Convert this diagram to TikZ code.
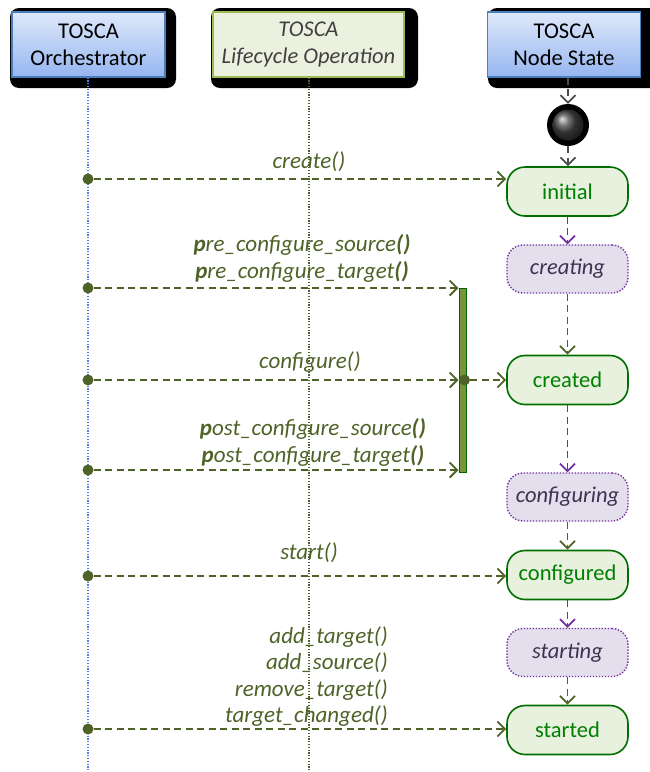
\documentclass[tikz,border=0pt]{standalone}
\usepackage{fontspec}
\setmainfont{Carlito}
\usetikzlibrary{arrows.meta}
\definecolor{msgcol}{RGB}{79,98,40}
\definecolor{hdrborder}{RGB}{74,126,187}
\definecolor{hdrtop}{RGB}{222,232,250}
\definecolor{hdrbot}{RGB}{150,182,240}
\definecolor{lcfill}{RGB}{235,241,222}
\definecolor{lcborder}{RGB}{155,187,89}
\definecolor{stgreen}{RGB}{0,110,0}
\definecolor{sttext}{RGB}{0,128,0}
\definecolor{stfill}{RGB}{232,240,222}
\definecolor{pfill}{RGB}{228,223,236}
\definecolor{pborder}{RGB}{112,48,160}
\definecolor{ptext}{RGB}{63,49,81}
\definecolor{actfill}{RGB}{119,147,60}
\definecolor{actborder}{RGB}{0,100,0}
\definecolor{orchline}{RGB}{74,134,232}
\tikzset{
  x=1pt, y=-1pt,
  hdr/.style={draw=hdrborder, line width=1.2pt, top color=hdrtop, bottom color=hdrbot,
    minimum width=153pt, minimum height=65pt, align=center, inner sep=2pt,
    font=\fontsize{22.5}{27}\selectfont},
  lchdr/.style={draw=lcborder, line width=1.2pt, fill=lcfill,
    minimum width=191pt, minimum height=65pt, align=center, inner sep=2pt,
    font=\itshape\fontsize{22.5}{27}\selectfont, text=black!75},
  shadowbox/.style={fill=black, rounded corners=9pt},
  gstate/.style={draw=stgreen, line width=1.6pt, fill=stfill, rounded corners=18pt,
    minimum width=121pt, minimum height=49pt, text=sttext, inner sep=0pt,
    font=\fontsize{22.5}{26}\selectfont},
  pstate/.style={draw=pborder, line width=1.4pt, dash pattern=on 1.4pt off 1.6pt,
    fill=pfill, rounded corners=16pt,
    minimum width=121pt, minimum height=48pt, text=ptext, inner sep=0pt,
    font=\itshape\fontsize{22.5}{26}\selectfont},
  tip/.style={-{Straight Barb[length=7.5pt,width=15pt,line width=1.8pt]}},
  msg/.style={draw=msgcol, line width=1.7pt, dash pattern=on 7pt off 4.5pt, tip},
  ptrans/.style={draw=pborder, line width=1.7pt, dash pattern=on 7pt off 4.5pt, tip},
  otrans/.style={draw=msgcol, line width=1.7pt, dash pattern=on 7pt off 4.5pt, tip},
  ktrans/.style={draw=black!70, line width=1.7pt, dash pattern=on 7pt off 4.5pt, tip},
  mdot/.style={circle, fill=msgcol, minimum size=11pt, inner sep=0pt},
  lbl/.style={text=msgcol, inner sep=0pt, font=\itshape\fontsize{23}{26}\selectfont},
  act/.style={draw=actborder, line width=1pt, fill=actfill, minimum width=7pt,
    minimum height=184pt, inner sep=0pt},
}
\newcommand{\bp}[1]{\textbf{#1}}
\begin{document}
\begin{tikzpicture}
\useasboundingbox (0,0) rectangle (650,772);
% headers
\fill[shadowbox] (10,8) rectangle (176,88);
\fill[shadowbox] (211,8) rectangle (418,88);
\fill[shadowbox] (488,8) rectangle (660,88);
\node[hdr] (orch) at (88.5,44.5) {TOSCA\\Orchestrator};
\node[lchdr] (lc) at (308.5,44.5) {TOSCA\\Lifecycle Operation};
\node[hdr] (ns) at (564,44.5) {TOSCA\\Node State};
% lifelines
\draw[orchline, line width=1.2pt, dash pattern=on 1.2pt off 1.6pt] (orch.south -| 88,0) -- (88,772);
\draw[msgcol, line width=1.2pt, dash pattern=on 1.2pt off 1.6pt] (lc.south -| 309,0) -- (309,772);
% initial pseudo state
\node[circle, fill=black, minimum size=42pt, inner sep=0pt] (init) at (568,125) {};
\node[circle, ball color=gray!55!black, minimum size=31pt, inner sep=0pt] (ball) at (init) {};
% states
\node[gstate] (initial) at (567.5,191.5) {initial};
\node[pstate] (creating) at (567.5,269) {creating};
\node[gstate] (created) at (567.5,380) {created};
\node[pstate] (configuring) at (567.5,497) {configuring};
\node[gstate] (configured) at (567.5,575) {configured};
\node[pstate] (starting) at (567.5,652.5) {starting};
\node[gstate] (started) at (567.5,730) {started};
% state transitions
\draw[ktrans] (ns.south -| init) -- (init.north);
\draw[ktrans] (init.south) -- (initial.north -| init);
\draw[ptrans] (initial) -- (creating);
\draw[otrans] (creating) -- (created);
\draw[ptrans] (created) -- (configuring);
\draw[otrans] (configuring) -- (configured);
\draw[ptrans] (configured) -- (starting);
\draw[otrans] (starting) -- (started);
% activation bar
\node[act] (bar) at (462.5,380) {};
% messages
\node[mdot] (d1) at (88,179) {};
\node[mdot] (d2) at (88,288) {};
\node[mdot] (d3) at (88,380) {};
\node[mdot] (d4) at (88,470) {};
\node[mdot] (d5) at (88,576) {};
\node[mdot] (d6) at (88,729) {};
\draw[msg] (d1) -- (d1 -| initial.west);
\draw[msg] (d2) -- (d2 -| bar.west);
\draw[msg] (d3) -- (d3 -| bar.west);
\draw[msg] (d4) -- (d4 -| bar.west);
\draw[msg] (d5) -- (d5 -| configured.west);
\draw[msg] (d6) -- (d6 -| started.west);
\node[mdot] (d7) at (464.5,380) {};
\draw[msg] (d7) -- (created.west);
% labels
\node[lbl] (l1) at (309,162) {create()};
\node[lbl] (l2) at (302,245) {\bp{p}re\_configure\_source\bp{()}};
\node[lbl] (l3) at (302,272) {\bp{p}re\_configure\_target\bp{()}};
\node[lbl] (l4) at (310,362) {configure()};
\node[lbl] (l5) at (313,429) {\bp{p}ost\_configure\_source\bp{()}};
\node[lbl] (l6) at (313,456) {\bp{p}ost\_configure\_target\bp{()}};
\node[lbl] (l7) at (309,553) {start()};
\node[lbl, anchor=east] (l8) at (388,637) {add\_target()};
\node[lbl, anchor=east] (l9) at (388,663) {add\_source()};
\node[lbl, anchor=east] (l10) at (388,690) {remove\_target()};
\node[lbl, anchor=east] (l11) at (388,716) {target\_changed()};
\end{tikzpicture}
\end{document}
